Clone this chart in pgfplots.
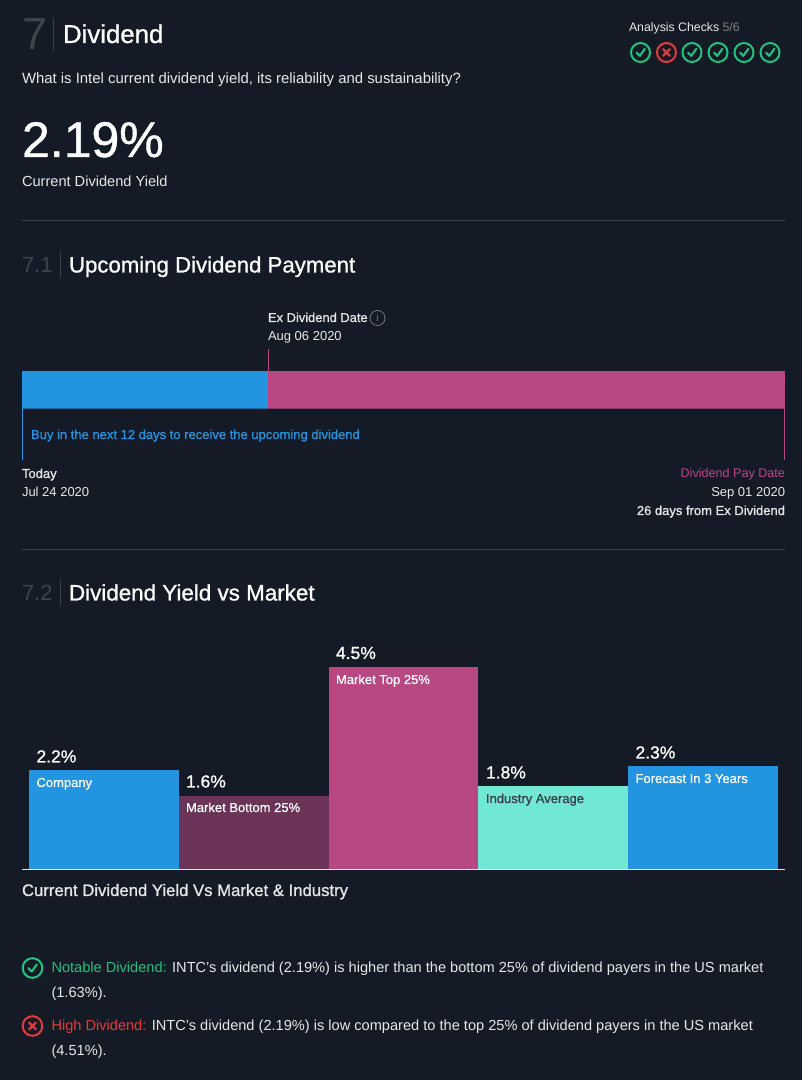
\documentclass[border=0pt]{standalone}
\usepackage{pgfplots}
\pgfplotsset{compat=1.18}
\usepackage{fontspec}
\setmainfont{Liberation Sans}
\newfontfamily\med[FakeBold=0.9]{Liberation Sans}
\definecolor{bg}{HTML}{151B26}
\definecolor{cblue}{HTML}{2394E0}
\definecolor{cpink}{HTML}{B84882}
\definecolor{cplum}{HTML}{6B3358}
\definecolor{cteal}{HTML}{71E8D6}
\definecolor{cgreen}{HTML}{22C17C}
\definecolor{cred}{HTML}{E03C3C}
\definecolor{txt}{HTML}{E6E7E9}
\definecolor{dim}{HTML}{3E434C}
\definecolor{rule}{HTML}{3A3F49}
\newcommand{\fs}[1]{\fontsize{#1}{#1}\selectfont}
\newcommand{\okicon}[3]{\draw[cgreen,line width=2pt] (#1,#2) circle (#3);
  \draw[cgreen,line width=2.1pt,line cap=round,line join=round] (#1-0.42*#3,#2+0.02*#3) -- (#1-0.08*#3,#2+0.36*#3) -- (#1+0.45*#3,#2-0.38*#3);}
\newcommand{\noicon}[3]{\draw[cred,line width=2pt] (#1,#2) circle (#3);
  \draw[cred,line width=2.4pt,line cap=round] (#1-0.34*#3,#2-0.34*#3) -- (#1+0.34*#3,#2+0.34*#3) (#1-0.34*#3,#2+0.34*#3) -- (#1+0.34*#3,#2-0.34*#3);}
\begin{document}
\begin{tikzpicture}[x=1pt,y=1pt]
\fill[bg] (0,0) rectangle (802,1080);
\path[use as bounding box] (0,0) rectangle (802,1080);

% timeline bar (days)
\begin{axis}[at={(22pt,672pt)},anchor=south west,scale only axis,width=763pt,height=37pt,
  hide axis,xbar stacked,bar width=37pt,xmin=0,xmax=39,ymin=-0.5,ymax=0.5,clip=false]
\addplot[fill=cblue,draw=none] coordinates {(12.58,0)};
\addplot[fill=cpink,draw=none] coordinates {(26.42,0)};
\end{axis}

% dividend yield bars
\begin{axis}[at={(29pt,211pt)},anchor=south west,scale only axis,width=749pt,height=202pt,
  hide axis,ybar,bar width=149.8pt,xmin=-0.5,xmax=4.5,ymin=0,ymax=4.51,clip=false,
  every axis plot/.append style={bar shift=0pt}]
\addplot[fill=cblue,draw=none] coordinates {(0,2.21)};
\addplot[fill=cplum,draw=none] coordinates {(1,1.64)};
\addplot[fill=cpink,draw=none] coordinates {(2,4.51)};
\addplot[fill=cteal,draw=none] coordinates {(3,1.85)};
\addplot[fill=cblue,draw=none] coordinates {(4,2.30)};
\end{axis}

\begin{scope}[shift={(0,1080)},y=-1pt,x=1pt,every node/.style={inner sep=0pt,outer sep=0pt,text=txt}]
% header
\node[anchor=base west,text=dim] at (22,50) {\fs{45}7};
\draw[rule,line width=0.6pt] (53.5,18) -- (53.5,50);
\node[anchor=base west,text=white] at (63,43) {\med\fs{25.8}Dividend};
\node[anchor=base west] at (22,84) {\fs{14.9}What is Intel current dividend yield, its reliability and sustainability?};
\node[anchor=base west,text=white] at (22,157) {\med\fs{50}2.19\%};
\node[anchor=base west] at (22,187) {\fs{14.6}Current Dividend Yield};
\node[anchor=base west] at (629,32) {\fs{12.3}Analysis Checks \textcolor{gray}{5/6}};
\okicon{640.5}{52.5}{9.5}
\noicon{666.5}{52.5}{9.5}
\okicon{692}{52.5}{9.5}
\okicon{718}{52.5}{9.5}
\okicon{744}{52.5}{9.5}
\okicon{770}{52.5}{9.5}
\draw[rule,line width=0.8pt] (22,220.5) -- (785,220.5);

% 7.1
\node[anchor=base west,text=dim] at (22,273) {\fs{22}7.1};
\draw[rule,line width=0.6pt] (60.5,251) -- (60.5,278);
\node[anchor=base west,text=white] at (69,272.5) {\med\fs{22.2}Upcoming Dividend Payment};
\node[anchor=base west] at (268,322) {\med\fs{12.9}Ex Dividend Date};
\draw[gray,line width=0.7pt] (377.5,318) circle (7.5);
\node[text=gray] at (377.5,318) {\fs{10}i};
\node[anchor=base west] at (268,341) {\fs{13}Aug 06 2020};
\draw[cpink,line width=1pt] (268.5,349) -- (268.5,371);
\draw[cblue!70!black,line width=1pt] (22,408.5) -- (268,408.5);
\draw[cpink!75!black,line width=1pt] (268,408.5) -- (785,408.5);
\draw[cblue,line width=1pt] (22.5,408) -- (22.5,460);
\draw[cpink,line width=1pt] (784.5,408) -- (784.5,460);
\node[anchor=base west,text=cblue] at (31,439) {\med\fs{13}Buy in the next 12 days to receive the upcoming dividend};
\node[anchor=base west] at (22,478) {\med\fs{13}Today};
\node[anchor=base west] at (22,497) {\fs{13}Jul 24 2020};
\node[anchor=base east,text=cpink] at (785,478) {\fs{12.6}Dividend Pay Date};
\node[anchor=base east] at (785,497) {\fs{13}Sep 01 2020};
\node[anchor=base east] at (785,515) {\med\fs{13}26 days from Ex Dividend};
\draw[rule,line width=0.8pt] (22,549.5) -- (785,549.5);

% 7.2
\node[anchor=base west,text=dim] at (22,601) {\fs{22}7.2};
\draw[rule,line width=0.6pt] (60.5,579) -- (60.5,606);
\node[anchor=base west,text=white] at (69,600.5) {\med\fs{22.4}Dividend Yield vs Market};
% bar texts
\node[anchor=base west,text=white] at (36.5,762.5) {\med\fs{17.5}2.2\%};
\node[anchor=base west,text=white] at (186,787.5) {\med\fs{17.5}1.6\%};
\node[anchor=base west,text=white] at (336,659) {\med\fs{17.5}4.5\%};
\node[anchor=base west,text=white] at (486,778.5) {\med\fs{17.5}1.8\%};
\node[anchor=base west,text=white] at (635.5,758.5) {\med\fs{17.5}2.3\%};
\node[anchor=base west,text=white] at (36.5,787) {\med\fs{13}Company};
\node[anchor=base west,text=white] at (186,812) {\med\fs{13}Market Bottom 25\%};
\node[anchor=base west,text=white] at (336,684) {\med\fs{13}Market Top 25\%};
\node[anchor=base west,text=bg!85!white] at (486,803) {\med\fs{13}Industry Average};
\node[anchor=base west,text=white] at (635.5,783) {\med\fs{13}Forecast In 3 Years};
\draw[txt,line width=1.4pt] (22,869.5) -- (785,869.5);
\node[anchor=base west] at (22,896) {\med\fs{16.7}Current Dividend Yield Vs Market \& Industry};

% findings
\okicon{32.5}{968}{9.8}
\node[anchor=base west] at (51.5,973) {\fs{14.6}\textcolor{cgreen}{Notable Dividend:} INTC's dividend (2.19\%) is higher than the bottom 25\% of dividend payers in the US market};
\node[anchor=base west] at (51.5,998) {\fs{14.6}(1.63\%).};
\noicon{32.5}{1026}{9.8}
\node[anchor=base west] at (51.5,1031) {\fs{14.6}\textcolor{cred}{High Dividend:} INTC's dividend (2.19\%) is low compared to the top 25\% of dividend payers in the US market};
\node[anchor=base west] at (51.5,1056) {\fs{14.6}(4.51\%).};
\end{scope}
\end{tikzpicture}
\end{document}
